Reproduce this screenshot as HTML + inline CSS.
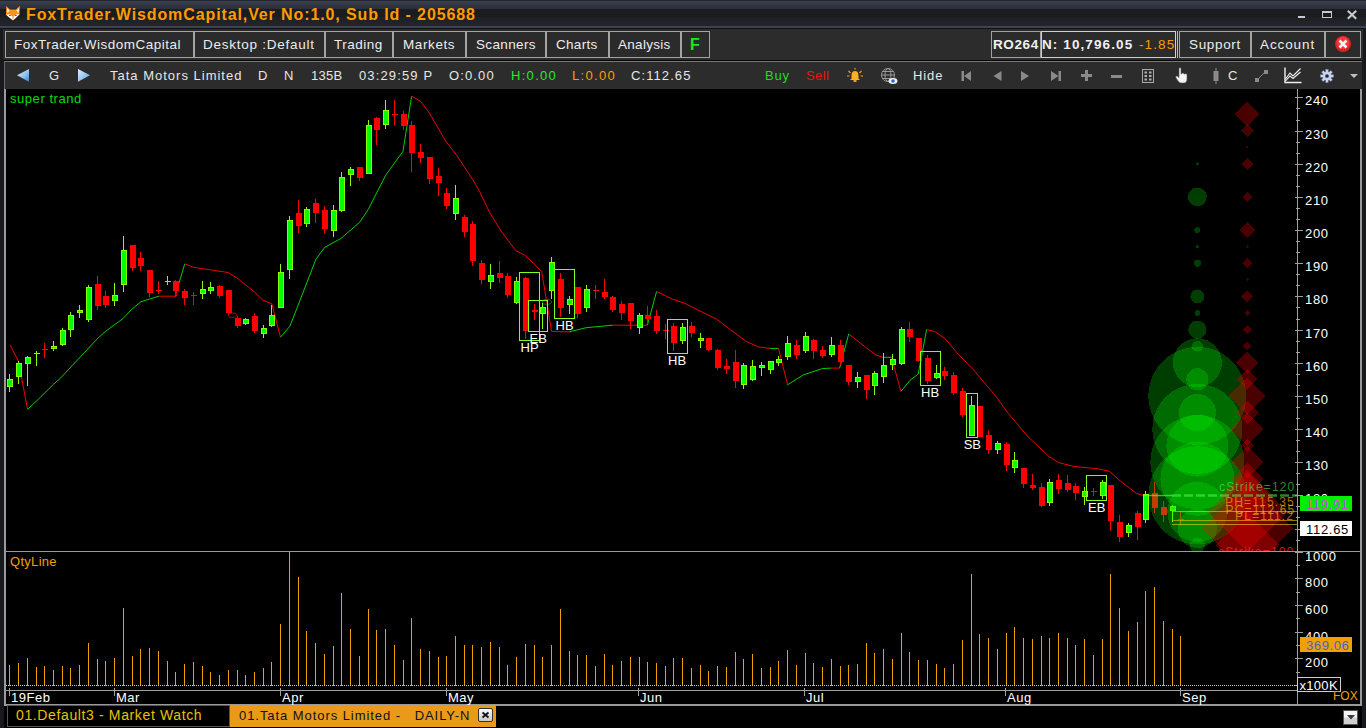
<!DOCTYPE html>
<html><head><meta charset="utf-8">
<style>
*{margin:0;padding:0;box-sizing:border-box}
html,body{width:1366px;height:728px;overflow:hidden;background:#17191c;font-family:"Liberation Sans",sans-serif}
.a{position:absolute;white-space:nowrap}
#title{left:0;top:0;width:1366px;height:28px;background:linear-gradient(#23262c 0px,#23262c 1px,#3a3f4e 1px,#2a2e38 9px,#1b1c1f 9px,#1b1c1f 17px,#1e2024 17px,#22252b 26px,#3d4354 26px,#3d4354 28px)}
#ttxt{left:26px;top:6px;font-weight:bold;font-size:16px;color:#ff9a00;letter-spacing:0.89px;line-height:18px}
#menu{left:3px;top:28px;width:1360px;height:33px;background:#2c2c2c;border-top:1px solid #111;border-bottom:1px solid #050505}
.btn{position:absolute;top:31px;height:27px;border:1px solid #a3a3a3;background:#2b2b2b;color:#ececec;font-size:13.5px;line-height:25px;white-space:nowrap}
.btn span{position:absolute;top:0}
#tool{left:4px;top:61px;width:1358px;height:28px;background:#2c2c2c;border-top:1px solid #777;border-left:1px solid #666}
.tt{position:absolute;top:68px;font-size:13px;color:#e6e6e6;white-space:nowrap;line-height:16px;letter-spacing:1px}
#chart{left:4px;top:89px;width:1358px;height:617px;background:#000;border-left:2px solid #9a9a9a;border-right:2px solid #9a9a9a;border-bottom:2px solid #9a9a9a}
svg{position:absolute;left:0;top:0}
.lbl{font-size:13px;fill:#fff;font-family:"Liberation Sans",sans-serif}
.ax{font-size:13px;fill:#fff;font-family:"Liberation Sans",sans-serif;letter-spacing:0.7px}
.dl{font-size:13px;fill:#fff;font-family:"Liberation Sans",sans-serif;letter-spacing:0.5px}
.tab{position:absolute;top:705px;height:22px;font-size:14px;line-height:18px;white-space:nowrap;letter-spacing:0.63px}
</style></head><body>
<div class="a" id="title"></div>
<svg width="20" height="20" style="left:3px;top:3px" viewBox="0 0 20 20">
<path d="M3.3 3 L7 6.5 L13 6.5 L16.8 2.8 L16.6 11 L10 17.5 L3 11.8 Z" fill="#ff9218"/>
<path d="M3.9 5 L6.6 7.6 L4.3 10 Z M16.1 5 L13.4 7.6 L15.7 10 Z" fill="#fff6e8"/>
<path d="M3 11.8 L6.5 11.2 L9.3 13.2 L9.8 17.2 Z M16.8 11.2 L13.5 11.2 L10.7 13.2 L10.2 17.2 Z" fill="#ffffff"/>
<ellipse cx="6.9" cy="12.4" rx="1" ry="0.6" fill="#556070"/><ellipse cx="12.9" cy="12.4" rx="1" ry="0.6" fill="#556070"/>
</svg>
<div class="a" id="ttxt">FoxTrader.WisdomCapital,Ver No:1.0, Sub Id - 205688</div>
<div class="a" style="left:1298px;top:16px;width:7px;height:2px;background:#c4c8d0"></div>
<div class="a" style="left:1322px;top:11px;width:10px;height:7px;border:1px solid #c4c8d0;border-top:2px solid #c4c8d0"></div>
<svg width="12" height="11" style="left:1346px;top:8.5px" viewBox="0 0 12 11"><path d="M1.8 1.8 L10.2 9.7 M10.2 1.8 L1.8 9.7" stroke="#c4c8d0" stroke-width="2.2"/></svg>

<div class="a" id="menu"></div>
<div class="btn" style="left:5px;width:189px"><span style="left:8px;letter-spacing:0.5px">FoxTrader.WisdomCapital</span></div>
<div class="btn" style="left:194px;width:131px"><span style="left:8px;letter-spacing:0.75px">Desktop :Default</span></div>
<div class="btn" style="left:325px;width:68px"><span style="left:8px;letter-spacing:0.5px">Trading</span></div>
<div class="btn" style="left:393px;width:73px"><span style="left:9px;letter-spacing:0.6px">Markets</span></div>
<div class="btn" style="left:466px;width:80px"><span style="left:9px;letter-spacing:0.35px">Scanners</span></div>
<div class="btn" style="left:546px;width:63px"><span style="left:9px;letter-spacing:0.3px">Charts</span></div>
<div class="btn" style="left:609px;width:72px"><span style="left:8px;letter-spacing:0.3px">Analysis</span></div>
<div class="btn" style="left:681px;width:29px;color:#11f011;font-weight:bold;font-size:16px"><span style="left:8px">F</span></div>
<div class="btn" style="left:991px;width:50px;border-color:#a0a0a0;font-weight:bold;color:#f0f0f0"><span style="left:1px;letter-spacing:0.6px">RO264</span></div>
<div class="btn" style="left:1041px;width:135px;border-color:#d0d0d0;font-weight:bold;color:#f0f0f0"><span style="left:0px;letter-spacing:1.1px">N: 10,796.05</span><span style="left:97px;color:#ff9a00;font-weight:normal;letter-spacing:1.1px">-1.85</span></div>
<div class="a" style="left:1177px;top:31px;width:1px;height:27px;background:#bbb"></div>
<div class="btn" style="left:1179px;width:72px"><span style="left:9px;letter-spacing:0.65px">Support</span></div>
<div class="btn" style="left:1251px;width:74px"><span style="left:8px;letter-spacing:0.9px">Account</span></div>
<div class="btn" style="left:1325px;width:36px"></div>
<svg width="18" height="18" style="left:1334px;top:35px" viewBox="0 0 18 18"><circle cx="9" cy="9" r="8" fill="#d82020"/><circle cx="9" cy="8" r="6.5" fill="#ee3a3a"/><path d="M5.5 5.5 L12.5 12.5 M12.5 5.5 L5.5 12.5" stroke="#f4f4f4" stroke-width="2.6"/></svg>

<div class="a" id="tool"></div>
<svg width="16" height="16" style="left:15px;top:67px" viewBox="0 0 16 16"><defs><linearGradient id="tg" x1="0" y1="0" x2="1" y2="1"><stop offset="0" stop-color="#e0f0ff"/><stop offset="0.6" stop-color="#8cc0ee"/><stop offset="1" stop-color="#3a7ad0"/></linearGradient></defs><path d="M2 8.2 L14 2 L14 14.8 Z" fill="url(#tg)"/></svg>
<div class="tt" style="left:49px">G</div>
<svg width="16" height="16" style="left:76px;top:67px" viewBox="0 0 16 16"><path d="M14 8.2 L2 2 L2 14.8 Z" fill="url(#tg)"/></svg>
<div class="tt" style="left:110px">Tata Motors Limited</div>
<div class="tt" style="left:258px">D</div>
<div class="tt" style="left:284px">N</div>
<div class="tt" style="left:311px;letter-spacing:0.3px">135B</div>
<div class="tt" style="left:359px;letter-spacing:1.14px">03:29:59 P</div>
<div class="tt" style="left:449px;letter-spacing:1.12px">O:0.00</div>
<div class="tt" style="left:511px;color:#22ee22;letter-spacing:1.3px">H:0.00</div>
<div class="tt" style="left:572px;color:#ff9a00;letter-spacing:1.3px">L:0.00</div>
<div class="tt" style="left:631px;letter-spacing:1.08px">C:112.65</div>
<div class="tt" style="left:765px;color:#22dd22;letter-spacing:0.8px">Buy</div>
<div class="tt" style="left:806px;color:#ee1111;letter-spacing:0.4px">Sell</div>
<div class="tt" style="left:913px;letter-spacing:0.9px">Hide</div>
<svg width="18" height="16" style="left:846px;top:68px" viewBox="0 0 18 16"><path d="M9 3 C6 3 5.5 6 5.5 8 L5.5 10.5 L4 12 L14 12 L12.5 10.5 L12.5 8 C12.5 6 12 3 9 3 Z" fill="#ffb020"/><rect x="7.5" y="12" width="3" height="2" fill="#ff9a00"/><path d="M1 8 L3.5 8 M14.5 8 L17 8 M2.5 3 L4.5 5 M15.5 3 L13.5 5 M9 0 L9 1.5" stroke="#ff9a20" stroke-width="1.2"/></svg>
<svg width="18" height="18" style="left:880px;top:67px" viewBox="0 0 18 18"><g fill="none" stroke="#9a9a9a" stroke-width="1"><circle cx="8" cy="8" r="6.5"/><ellipse cx="8" cy="8" rx="3" ry="6.5"/><path d="M1.5 8 L14.5 8 M2.5 4.5 L13.5 4.5 M2.5 11.5 L13.5 11.5"/></g><ellipse cx="13" cy="14" rx="4.5" ry="3" fill="#f0f0f0"/><circle cx="13" cy="14" r="1.8" fill="#2a6ad0"/></svg>
<svg width="12" height="12" style="left:961px;top:70px" viewBox="0 0 12 12"><rect x="0.5" y="1" width="2.5" height="10" fill="#8a8a8a"/><path d="M10 1 L3 6 L10 11 Z" fill="#8a8a8a"/></svg>
<svg width="10" height="12" style="left:993px;top:70px" viewBox="0 0 10 12"><path d="M8.5 1 L0.5 6 L8.5 11 Z" fill="#8a8a8a"/></svg>
<svg width="10" height="12" style="left:1020px;top:70px" viewBox="0 0 10 12"><path d="M1 1 L9 6 L1 11 Z" fill="#8a8a8a"/></svg>
<svg width="12" height="12" style="left:1050px;top:70px" viewBox="0 0 12 12"><rect x="8.5" y="1" width="2.5" height="10" fill="#8a8a8a"/><path d="M1 1 L8.5 6 L1 11 Z" fill="#8a8a8a"/></svg>
<svg width="13" height="13" style="left:1080px;top:69px" viewBox="0 0 13 13"><path d="M6.5 1 L6.5 12 M1 6.5 L12 6.5" stroke="#8a8a8a" stroke-width="3"/></svg>
<div class="a" style="left:1111px;top:75px;width:11px;height:3px;background:#8a8a8a"></div>
<svg width="14" height="16" style="left:1141px;top:68px" viewBox="0 0 14 16"><rect x="1.5" y="1.5" width="11" height="13" fill="none" stroke="#a8a8a8" stroke-width="1"/><g fill="#b0b0b0"><rect x="3.5" y="3.5" width="2.5" height="2"/><rect x="8" y="3.5" width="2.5" height="2"/><rect x="3.5" y="7" width="2.5" height="2"/><rect x="8" y="7" width="2.5" height="2"/><rect x="3.5" y="10.5" width="2.5" height="2"/><rect x="8" y="10.5" width="2.5" height="2"/></g></svg>
<svg width="14" height="17" style="left:1175px;top:67px" viewBox="0 0 14 17"><path d="M4 1.5 C4 0.5 6 0.5 6 1.5 L6 7 L7 6.5 C7.5 5.8 9 6 9 7 L10 7 C10.5 6.5 12 6.8 12 7.8 L12 12 C12 14 11 16 9 16 L6 16 C4.5 16 3.5 14.5 2 12.5 L0.8 10.5 C0.3 9.5 1.5 8.5 2.5 9.3 L4 10.5 Z" fill="#f4f4f4" stroke="#555" stroke-width="0.6"/></svg>
<svg width="8" height="16" style="left:1212px;top:68px" viewBox="0 0 8 16"><rect x="3.5" y="0" width="1" height="16" fill="#8a8a8a"/><rect x="1.5" y="3" width="5" height="10" fill="#8a8a8a"/></svg>
<div class="tt" style="left:1228px;top:68px;letter-spacing:0">C</div>
<svg width="14" height="14" style="left:1254px;top:69px" viewBox="0 0 14 14"><path d="M3 11 L11 3" stroke="#8a8a8a" stroke-width="1"/><rect x="1" y="9" width="4" height="4" fill="#8a8a8a"/><rect x="10" y="1" width="4" height="4" fill="#8a8a8a"/></svg>
<svg width="18" height="17" style="left:1284px;top:67px" viewBox="0 0 18 17"><path d="M1 0.5 L1 15.5 L17.5 15.5" fill="none" stroke="#f0f0f0" stroke-width="1.4"/><path d="M1.5 12 L6 6 L9 9 L16.5 1.5 M1.5 14 L6 9 L9 11.5 L16.5 5" fill="none" stroke="#f0f0f0" stroke-width="1.1"/></svg>
<svg width="14" height="14" style="left:1320px;top:68.5px" viewBox="0 0 15 15"><g fill="#c8d4f0" stroke="#8090b8" stroke-width="0.4"><circle cx="7.5" cy="7.5" r="4.6"/><rect x="6.2" y="0.5" width="2.6" height="14"/><rect x="0.5" y="6.2" width="14" height="2.6"/><rect x="6.2" y="0.5" width="2.6" height="14" transform="rotate(45 7.5 7.5)"/><rect x="6.2" y="0.5" width="2.6" height="14" transform="rotate(-45 7.5 7.5)"/></g><circle cx="7.5" cy="7.5" r="4.2" fill="#c8d4f0"/><circle cx="7.5" cy="7.5" r="2" fill="#2c2c2c"/></svg>
<svg width="8" height="5" style="left:1350px;top:74px" viewBox="0 0 8 5"><path d="M0 0 L8 0 L4 4 Z" fill="#c0c0c0"/></svg>

<div class="a" id="chart"></div>
<svg width="1366" height="728" viewBox="0 0 1366 728">
<defs><clipPath id="cp"><rect x="6" y="89" width="1291" height="462"/></clipPath></defs>
<rect x="4" y="551" width="1358" height="1" fill="#9a9a9a"/>
<g clip-path="url(#cp)">
<polyline points="10.1,345.0 18.4,361.0 27.6,409.3" fill="none" stroke="#f00000" stroke-width="1"/>
<polyline points="27.6,409.3 38.2,399.4 53.6,384.2 60.0,378.6 77.8,359.6 97.1,339.0 105.3,331.5 123.2,318.4 131.4,309.5 141.0,301.7 158.9,296.2" fill="none" stroke="#00d000" stroke-width="1"/>
<polyline points="158.9,296.2 176.4,296.2 176.4,291.7" fill="none" stroke="#f00000" stroke-width="1"/>
<polyline points="176.4,291.7 184.8,263.8" fill="none" stroke="#00d000" stroke-width="1"/>
<polyline points="184.8,263.8 193.5,267.3 209.6,269.7 228.0,272.5 236.8,277.9 254.0,291.5 262.7,300.1 271.9,303.9 280.5,337.2" fill="none" stroke="#f00000" stroke-width="1"/>
<polyline points="280.5,337.2 290.0,326.1 315.9,259.3 324.5,247.5 341.0,238.4 359.7,222.3 368.3,209.4 385.6,175.3 403.0,151.3 411.6,96.2" fill="none" stroke="#00d000" stroke-width="1"/>
<polyline points="411.6,96.2 420.3,101.1 428.9,112.3 446.2,141.9 456.1,154.3 473.0,180.0 479.5,191.4 489.4,212.0 501.0,231.0 515.8,250.7 525.7,255.7 541.7,271.5 551.6,331.4 568.9,331.9" fill="none" stroke="#f00000" stroke-width="1"/>
<polyline points="568.9,331.9 586.2,327.7 612.9,325.2" fill="none" stroke="#00d000" stroke-width="1"/>
<polyline points="612.9,325.2 647.4,325.2" fill="none" stroke="#f00000" stroke-width="1"/>
<polyline points="647.4,325.2 656.6,291.5" fill="none" stroke="#00d000" stroke-width="1"/>
<polyline points="656.6,291.5 672.1,299.0 684.5,303.2 699.3,310.6 716.7,319.2 729.0,328.6 746.3,341.5 758.7,346.9 769.8,348.4" fill="none" stroke="#f00000" stroke-width="1"/>
<polyline points="769.8,348.4 778.5,348.4" fill="none" stroke="#00d000" stroke-width="1"/>
<polyline points="778.5,348.4 787.6,384.8" fill="none" stroke="#f00000" stroke-width="1"/>
<polyline points="787.6,384.8 803.2,374.9 822.3,368.6 831.0,368.1" fill="none" stroke="#00d000" stroke-width="1"/>
<polyline points="831.0,368.1 839.6,368.1" fill="none" stroke="#f00000" stroke-width="1"/>
<polyline points="839.6,368.1 848.7,334.0" fill="none" stroke="#00d000" stroke-width="1"/>
<polyline points="848.7,334.0 875.4,354.8 882.8,357.3" fill="none" stroke="#f00000" stroke-width="1"/>
<polyline points="882.8,357.3 891.5,357.3" fill="none" stroke="#00d000" stroke-width="1"/>
<polyline points="891.5,357.3 900.9,391.4" fill="none" stroke="#f00000" stroke-width="1"/>
<polyline points="900.9,391.4 910.0,380.3 918.2,374.1 926.6,329.6" fill="none" stroke="#00d000" stroke-width="1"/>
<polyline points="926.6,329.6 934.8,331.5 944.7,338.2 958.3,354.3 973.6,370.0 994.6,394.7 1008.2,413.3 1028.0,436.8 1049.0,456.5 1058.9,462.7 1073.7,466.4 1098.5,468.9 1109.6,471.4 1120.7,481.3 1136.4,493.4 1143.4,495.5" fill="none" stroke="#f00000" stroke-width="1"/>
<ellipse cx="232.4" cy="315.2" rx="4.2" ry="2.2" fill="none" stroke="#c00000" stroke-width="1"/>
<ellipse cx="546.9" cy="301.9" rx="4.5" ry="2.5" fill="none" stroke="#007000" stroke-width="1"/>
<rect x="9" y="374" width="1" height="18" fill="#88ff00"/>
<rect x="7.5" y="379.5" width="5" height="7" fill="#00ff00" stroke="#88ff00" stroke-width="1"/>
<rect x="18" y="361" width="1" height="23" fill="#88ff00"/>
<rect x="16.5" y="363.5" width="5" height="13" fill="#00ff00" stroke="#88ff00" stroke-width="1"/>
<rect x="27" y="356" width="1" height="30" fill="#88ff00"/>
<rect x="25.5" y="357.5" width="5" height="6" fill="#00ff00" stroke="#88ff00" stroke-width="1"/>
<rect x="36" y="351" width="1" height="15" fill="#88ff00"/>
<rect x="34" y="353" width="6" height="1" fill="#88ff00"/>
<rect x="44" y="343" width="1" height="15" fill="#ff0000"/>
<rect x="42" y="349" width="6" height="1" fill="#ff0000"/>
<rect x="53" y="341" width="1" height="10" fill="#88ff00"/>
<rect x="51.5" y="346.5" width="5" height="2" fill="#00ff00" stroke="#88ff00" stroke-width="1"/>
<rect x="62" y="328" width="1" height="18" fill="#88ff00"/>
<rect x="60.5" y="330.5" width="5" height="14" fill="#00ff00" stroke="#88ff00" stroke-width="1"/>
<rect x="70" y="312" width="1" height="25" fill="#88ff00"/>
<rect x="68.5" y="315.5" width="5" height="14" fill="#00ff00" stroke="#88ff00" stroke-width="1"/>
<rect x="79" y="305" width="1" height="13" fill="#88ff00"/>
<rect x="77.5" y="310.5" width="5" height="2" fill="#00ff00" stroke="#88ff00" stroke-width="1"/>
<rect x="88" y="285" width="1" height="37" fill="#88ff00"/>
<rect x="86.5" y="287.5" width="5" height="32" fill="#00ff00" stroke="#88ff00" stroke-width="1"/>
<rect x="97" y="276" width="1" height="34" fill="#ff0000"/>
<rect x="95" y="284" width="6" height="22" fill="#ff0000"/>
<rect x="105" y="291" width="1" height="17" fill="#ff0000"/>
<rect x="103" y="296" width="6" height="9" fill="#ff0000"/>
<rect x="114" y="283" width="1" height="23" fill="#88ff00"/>
<rect x="112.5" y="295.5" width="5" height="5" fill="#00ff00" stroke="#88ff00" stroke-width="1"/>
<rect x="123" y="236" width="1" height="56" fill="#88ff00"/>
<rect x="121.5" y="250.5" width="5" height="34" fill="#00ff00" stroke="#88ff00" stroke-width="1"/>
<rect x="132" y="245" width="1" height="26" fill="#ff0000"/>
<rect x="130" y="245" width="6" height="23" fill="#ff0000"/>
<rect x="140" y="252" width="1" height="19" fill="#ff0000"/>
<rect x="138" y="258" width="6" height="8" fill="#ff0000"/>
<rect x="149" y="270" width="1" height="27" fill="#ff0000"/>
<rect x="147" y="270" width="6" height="23" fill="#ff0000"/>
<rect x="158" y="281" width="1" height="13" fill="#ff0000"/>
<rect x="156" y="290" width="6" height="1" fill="#ff0000"/>
<rect x="167" y="276" width="1" height="9" fill="#88ff00"/>
<rect x="165" y="281" width="6" height="1" fill="#88ff00"/>
<rect x="175" y="280" width="1" height="17" fill="#ff0000"/>
<rect x="173" y="281" width="6" height="10" fill="#ff0000"/>
<rect x="184" y="289" width="1" height="16" fill="#ff0000"/>
<rect x="182" y="291" width="6" height="7" fill="#ff0000"/>
<rect x="193" y="292" width="1" height="13" fill="#ff0000"/>
<rect x="191" y="295" width="6" height="1" fill="#ff0000"/>
<rect x="202" y="281" width="1" height="18" fill="#88ff00"/>
<rect x="200.5" y="289.5" width="5" height="4" fill="#00ff00" stroke="#88ff00" stroke-width="1"/>
<rect x="210" y="282" width="1" height="12" fill="#88ff00"/>
<rect x="208.5" y="287.5" width="5" height="3" fill="#00ff00" stroke="#88ff00" stroke-width="1"/>
<rect x="219" y="285" width="1" height="13" fill="#ff0000"/>
<rect x="217" y="286" width="6" height="10" fill="#ff0000"/>
<rect x="228" y="290" width="1" height="24" fill="#ff0000"/>
<rect x="226" y="290" width="6" height="23" fill="#ff0000"/>
<rect x="237" y="316" width="1" height="12" fill="#ff0000"/>
<rect x="235" y="318" width="6" height="8" fill="#ff0000"/>
<rect x="245" y="318" width="1" height="7" fill="#88ff00"/>
<rect x="243.5" y="319.5" width="5" height="4" fill="#00ff00" stroke="#88ff00" stroke-width="1"/>
<rect x="254" y="313" width="1" height="20" fill="#ff0000"/>
<rect x="252" y="316" width="6" height="15" fill="#ff0000"/>
<rect x="263" y="325" width="1" height="13" fill="#88ff00"/>
<rect x="261.5" y="328.5" width="5" height="5" fill="#00ff00" stroke="#88ff00" stroke-width="1"/>
<rect x="271" y="305" width="1" height="22" fill="#88ff00"/>
<rect x="269.5" y="315.5" width="5" height="10" fill="#00ff00" stroke="#88ff00" stroke-width="1"/>
<rect x="280" y="264" width="1" height="44" fill="#88ff00"/>
<rect x="278.5" y="272.5" width="5" height="35" fill="#00ff00" stroke="#88ff00" stroke-width="1"/>
<rect x="289" y="216" width="1" height="63" fill="#88ff00"/>
<rect x="287.5" y="220.5" width="5" height="49" fill="#00ff00" stroke="#88ff00" stroke-width="1"/>
<rect x="298" y="200" width="1" height="33" fill="#ff0000"/>
<rect x="296" y="213" width="6" height="13" fill="#ff0000"/>
<rect x="306" y="207" width="1" height="20" fill="#88ff00"/>
<rect x="304.5" y="209.5" width="5" height="14" fill="#00ff00" stroke="#88ff00" stroke-width="1"/>
<rect x="315" y="199" width="1" height="24" fill="#ff0000"/>
<rect x="313" y="203" width="6" height="10" fill="#ff0000"/>
<rect x="324" y="206" width="1" height="28" fill="#ff0000"/>
<rect x="322" y="210" width="6" height="19" fill="#ff0000"/>
<rect x="333" y="205" width="1" height="32" fill="#88ff00"/>
<rect x="331.5" y="210.5" width="5" height="20" fill="#00ff00" stroke="#88ff00" stroke-width="1"/>
<rect x="341" y="172" width="1" height="40" fill="#88ff00"/>
<rect x="339.5" y="177.5" width="5" height="33" fill="#00ff00" stroke="#88ff00" stroke-width="1"/>
<rect x="350" y="167" width="1" height="19" fill="#88ff00"/>
<rect x="348.5" y="169.5" width="5" height="5" fill="#00ff00" stroke="#88ff00" stroke-width="1"/>
<rect x="359" y="167" width="1" height="14" fill="#ff0000"/>
<rect x="357" y="167" width="6" height="11" fill="#ff0000"/>
<rect x="368" y="120" width="1" height="54" fill="#88ff00"/>
<rect x="366.5" y="125.5" width="5" height="48" fill="#00ff00" stroke="#88ff00" stroke-width="1"/>
<rect x="376" y="117" width="1" height="28" fill="#ff0000"/>
<rect x="374" y="118" width="6" height="12" fill="#ff0000"/>
<rect x="385" y="100" width="1" height="29" fill="#88ff00"/>
<rect x="383.5" y="110.5" width="5" height="14" fill="#00ff00" stroke="#88ff00" stroke-width="1"/>
<rect x="394" y="100" width="1" height="25" fill="#ff0000"/>
<rect x="392" y="114" width="6" height="1" fill="#ff0000"/>
<rect x="403" y="111" width="1" height="19" fill="#ff0000"/>
<rect x="401" y="114" width="6" height="12" fill="#ff0000"/>
<rect x="411" y="121" width="1" height="51" fill="#ff0000"/>
<rect x="409" y="125" width="6" height="28" fill="#ff0000"/>
<rect x="420" y="144" width="1" height="19" fill="#ff0000"/>
<rect x="418" y="152" width="6" height="6" fill="#ff0000"/>
<rect x="429" y="157" width="1" height="27" fill="#ff0000"/>
<rect x="427" y="157" width="6" height="22" fill="#ff0000"/>
<rect x="438" y="168" width="1" height="28" fill="#ff0000"/>
<rect x="436" y="176" width="6" height="7" fill="#ff0000"/>
<rect x="446" y="188" width="1" height="21" fill="#ff0000"/>
<rect x="444" y="193" width="6" height="13" fill="#ff0000"/>
<rect x="455" y="185" width="1" height="35" fill="#88ff00"/>
<rect x="453.5" y="198.5" width="5" height="15" fill="#00ff00" stroke="#88ff00" stroke-width="1"/>
<rect x="464" y="215" width="1" height="22" fill="#ff0000"/>
<rect x="462" y="217" width="6" height="15" fill="#ff0000"/>
<rect x="472" y="221" width="1" height="45" fill="#ff0000"/>
<rect x="470" y="224" width="6" height="37" fill="#ff0000"/>
<rect x="481" y="260" width="1" height="24" fill="#ff0000"/>
<rect x="479" y="263" width="6" height="17" fill="#ff0000"/>
<rect x="490" y="264" width="1" height="25" fill="#88ff00"/>
<rect x="488.5" y="275.5" width="5" height="6" fill="#00ff00" stroke="#88ff00" stroke-width="1"/>
<rect x="499" y="261" width="1" height="22" fill="#ff0000"/>
<rect x="497" y="273" width="6" height="5" fill="#ff0000"/>
<rect x="507" y="273" width="1" height="25" fill="#ff0000"/>
<rect x="505" y="276" width="6" height="19" fill="#ff0000"/>
<rect x="516" y="277" width="1" height="27" fill="#88ff00"/>
<rect x="514.5" y="281.5" width="5" height="21" fill="#00ff00" stroke="#88ff00" stroke-width="1"/>
<rect x="525" y="277" width="1" height="62" fill="#ff0000"/>
<rect x="523" y="278" width="6" height="53" fill="#ff0000"/>
<rect x="534" y="304" width="1" height="16" fill="#ff0000"/>
<rect x="532" y="310" width="6" height="2" fill="#ff0000"/>
<rect x="542" y="303" width="1" height="26" fill="#88ff00"/>
<rect x="540.5" y="307.5" width="5" height="6" fill="#00ff00" stroke="#88ff00" stroke-width="1"/>
<rect x="551" y="257" width="1" height="42" fill="#88ff00"/>
<rect x="549.5" y="262.5" width="5" height="28" fill="#00ff00" stroke="#88ff00" stroke-width="1"/>
<rect x="560" y="273" width="1" height="44" fill="#ff0000"/>
<rect x="558" y="279" width="6" height="29" fill="#ff0000"/>
<rect x="569" y="296" width="1" height="18" fill="#88ff00"/>
<rect x="567.5" y="299.5" width="5" height="5" fill="#00ff00" stroke="#88ff00" stroke-width="1"/>
<rect x="577" y="287" width="1" height="31" fill="#ff0000"/>
<rect x="575" y="287" width="6" height="27" fill="#ff0000"/>
<rect x="586" y="285" width="1" height="27" fill="#88ff00"/>
<rect x="584.5" y="289.5" width="5" height="18" fill="#00ff00" stroke="#88ff00" stroke-width="1"/>
<rect x="595" y="285" width="1" height="14" fill="#ff0000"/>
<rect x="593" y="290" width="6" height="1" fill="#ff0000"/>
<rect x="604" y="279" width="1" height="20" fill="#ff0000"/>
<rect x="602" y="292" width="6" height="5" fill="#ff0000"/>
<rect x="612" y="296" width="1" height="16" fill="#ff0000"/>
<rect x="610" y="297" width="6" height="13" fill="#ff0000"/>
<rect x="621" y="301" width="1" height="19" fill="#ff0000"/>
<rect x="619" y="304" width="6" height="9" fill="#ff0000"/>
<rect x="630" y="303" width="1" height="26" fill="#ff0000"/>
<rect x="628" y="303" width="6" height="18" fill="#ff0000"/>
<rect x="639" y="313" width="1" height="21" fill="#88ff00"/>
<rect x="637.5" y="315.5" width="5" height="12" fill="#00ff00" stroke="#88ff00" stroke-width="1"/>
<rect x="647" y="306" width="1" height="18" fill="#ff0000"/>
<rect x="645" y="315" width="6" height="4" fill="#ff0000"/>
<rect x="656" y="310" width="1" height="24" fill="#ff0000"/>
<rect x="654" y="316" width="6" height="15" fill="#ff0000"/>
<rect x="665" y="324" width="1" height="15" fill="#ff0000"/>
<rect x="663" y="330" width="6" height="1" fill="#ff0000"/>
<rect x="673" y="323" width="1" height="28" fill="#ff0000"/>
<rect x="671" y="326" width="6" height="17" fill="#ff0000"/>
<rect x="682" y="323" width="1" height="21" fill="#88ff00"/>
<rect x="680.5" y="327.5" width="5" height="13" fill="#00ff00" stroke="#88ff00" stroke-width="1"/>
<rect x="691" y="322" width="1" height="15" fill="#ff0000"/>
<rect x="689" y="326" width="6" height="7" fill="#ff0000"/>
<rect x="700" y="333" width="1" height="15" fill="#88ff00"/>
<rect x="698.5" y="338.5" width="5" height="2" fill="#00ff00" stroke="#88ff00" stroke-width="1"/>
<rect x="708" y="338" width="1" height="13" fill="#ff0000"/>
<rect x="706" y="338" width="6" height="12" fill="#ff0000"/>
<rect x="717" y="349" width="1" height="21" fill="#ff0000"/>
<rect x="715" y="350" width="6" height="18" fill="#ff0000"/>
<rect x="726" y="359" width="1" height="15" fill="#ff0000"/>
<rect x="724" y="366" width="6" height="3" fill="#ff0000"/>
<rect x="735" y="350" width="1" height="38" fill="#ff0000"/>
<rect x="733" y="362" width="6" height="19" fill="#ff0000"/>
<rect x="743" y="363" width="1" height="26" fill="#88ff00"/>
<rect x="741.5" y="365.5" width="5" height="19" fill="#00ff00" stroke="#88ff00" stroke-width="1"/>
<rect x="752" y="360" width="1" height="21" fill="#88ff00"/>
<rect x="750.5" y="366.5" width="5" height="13" fill="#00ff00" stroke="#88ff00" stroke-width="1"/>
<rect x="761" y="362" width="1" height="14" fill="#88ff00"/>
<rect x="759.5" y="365.5" width="5" height="2" fill="#00ff00" stroke="#88ff00" stroke-width="1"/>
<rect x="770" y="361" width="1" height="13" fill="#88ff00"/>
<rect x="768.5" y="361.5" width="5" height="8" fill="#00ff00" stroke="#88ff00" stroke-width="1"/>
<rect x="778" y="356" width="1" height="10" fill="#88ff00"/>
<rect x="776.5" y="359.5" width="5" height="3" fill="#00ff00" stroke="#88ff00" stroke-width="1"/>
<rect x="787" y="336" width="1" height="24" fill="#88ff00"/>
<rect x="785.5" y="343.5" width="5" height="13" fill="#00ff00" stroke="#88ff00" stroke-width="1"/>
<rect x="796" y="340" width="1" height="19" fill="#ff0000"/>
<rect x="794" y="345" width="6" height="10" fill="#ff0000"/>
<rect x="805" y="332" width="1" height="21" fill="#88ff00"/>
<rect x="803.5" y="336.5" width="5" height="14" fill="#00ff00" stroke="#88ff00" stroke-width="1"/>
<rect x="813" y="339" width="1" height="20" fill="#ff0000"/>
<rect x="811" y="340" width="6" height="11" fill="#ff0000"/>
<rect x="822" y="346" width="1" height="12" fill="#ff0000"/>
<rect x="820" y="350" width="6" height="6" fill="#ff0000"/>
<rect x="831" y="337" width="1" height="20" fill="#88ff00"/>
<rect x="829.5" y="345.5" width="5" height="9" fill="#00ff00" stroke="#88ff00" stroke-width="1"/>
<rect x="840" y="340" width="1" height="25" fill="#ff0000"/>
<rect x="838" y="345" width="6" height="17" fill="#ff0000"/>
<rect x="848" y="365" width="1" height="20" fill="#ff0000"/>
<rect x="846" y="365" width="6" height="17" fill="#ff0000"/>
<rect x="857" y="372" width="1" height="16" fill="#88ff00"/>
<rect x="855.5" y="377.5" width="5" height="4" fill="#00ff00" stroke="#88ff00" stroke-width="1"/>
<rect x="866" y="375" width="1" height="24" fill="#ff0000"/>
<rect x="864" y="375" width="6" height="15" fill="#ff0000"/>
<rect x="874" y="371" width="1" height="24" fill="#88ff00"/>
<rect x="872.5" y="373.5" width="5" height="12" fill="#00ff00" stroke="#88ff00" stroke-width="1"/>
<rect x="883" y="353" width="1" height="30" fill="#88ff00"/>
<rect x="881.5" y="365.5" width="5" height="11" fill="#00ff00" stroke="#88ff00" stroke-width="1"/>
<rect x="892" y="354" width="1" height="16" fill="#88ff00"/>
<rect x="890.5" y="359.5" width="5" height="5" fill="#00ff00" stroke="#88ff00" stroke-width="1"/>
<rect x="901" y="327" width="1" height="38" fill="#88ff00"/>
<rect x="899.5" y="329.5" width="5" height="34" fill="#00ff00" stroke="#88ff00" stroke-width="1"/>
<rect x="909" y="322" width="1" height="20" fill="#ff0000"/>
<rect x="907" y="329" width="6" height="8" fill="#ff0000"/>
<rect x="918" y="338" width="1" height="24" fill="#ff0000"/>
<rect x="916" y="338" width="6" height="23" fill="#ff0000"/>
<rect x="927" y="355" width="1" height="29" fill="#ff0000"/>
<rect x="925" y="358" width="6" height="23" fill="#ff0000"/>
<rect x="936" y="365" width="1" height="14" fill="#88ff00"/>
<rect x="934.5" y="373.5" width="5" height="4" fill="#00ff00" stroke="#88ff00" stroke-width="1"/>
<rect x="944" y="367" width="1" height="13" fill="#ff0000"/>
<rect x="942" y="371" width="6" height="5" fill="#ff0000"/>
<rect x="953" y="372" width="1" height="23" fill="#ff0000"/>
<rect x="951" y="375" width="6" height="18" fill="#ff0000"/>
<rect x="962" y="388" width="1" height="29" fill="#ff0000"/>
<rect x="960" y="391" width="6" height="24" fill="#ff0000"/>
<rect x="971" y="396" width="1" height="40" fill="#88ff00"/>
<rect x="969.5" y="405.5" width="5" height="30" fill="#00ff00" stroke="#88ff00" stroke-width="1"/>
<rect x="979" y="406" width="1" height="31" fill="#ff0000"/>
<rect x="977" y="406" width="6" height="31" fill="#ff0000"/>
<rect x="988" y="430" width="1" height="24" fill="#ff0000"/>
<rect x="986" y="435" width="6" height="15" fill="#ff0000"/>
<rect x="997" y="441" width="1" height="13" fill="#88ff00"/>
<rect x="995.5" y="443.5" width="5" height="6" fill="#00ff00" stroke="#88ff00" stroke-width="1"/>
<rect x="1006" y="442" width="1" height="29" fill="#ff0000"/>
<rect x="1004" y="444" width="6" height="21" fill="#ff0000"/>
<rect x="1014" y="452" width="1" height="21" fill="#88ff00"/>
<rect x="1012.5" y="460.5" width="5" height="7" fill="#00ff00" stroke="#88ff00" stroke-width="1"/>
<rect x="1023" y="468" width="1" height="20" fill="#ff0000"/>
<rect x="1021" y="468" width="6" height="16" fill="#ff0000"/>
<rect x="1032" y="474" width="1" height="16" fill="#ff0000"/>
<rect x="1030" y="485" width="6" height="3" fill="#ff0000"/>
<rect x="1041" y="483" width="1" height="24" fill="#ff0000"/>
<rect x="1039" y="487" width="6" height="19" fill="#ff0000"/>
<rect x="1049" y="479" width="1" height="27" fill="#88ff00"/>
<rect x="1047.5" y="482.5" width="5" height="20" fill="#00ff00" stroke="#88ff00" stroke-width="1"/>
<rect x="1058" y="474" width="1" height="20" fill="#ff0000"/>
<rect x="1056" y="480" width="6" height="9" fill="#ff0000"/>
<rect x="1067" y="475" width="1" height="17" fill="#ff0000"/>
<rect x="1065" y="483" width="6" height="7" fill="#ff0000"/>
<rect x="1075" y="483" width="1" height="17" fill="#ff0000"/>
<rect x="1073" y="486" width="6" height="7" fill="#ff0000"/>
<rect x="1084" y="487" width="1" height="18" fill="#88ff00"/>
<rect x="1082.5" y="491.5" width="5" height="5" fill="#00ff00" stroke="#88ff00" stroke-width="1"/>
<rect x="1093" y="488" width="1" height="8" fill="#ff0000"/>
<rect x="1091" y="491" width="6" height="1" fill="#ff0000"/>
<rect x="1102" y="480" width="1" height="19" fill="#88ff00"/>
<rect x="1100.5" y="482.5" width="5" height="13" fill="#00ff00" stroke="#88ff00" stroke-width="1"/>
<rect x="1110" y="485" width="1" height="46" fill="#ff0000"/>
<rect x="1108" y="485" width="6" height="36" fill="#ff0000"/>
<rect x="1119" y="515" width="1" height="27" fill="#ff0000"/>
<rect x="1117" y="522" width="6" height="15" fill="#ff0000"/>
<rect x="1128" y="523" width="1" height="14" fill="#88ff00"/>
<rect x="1126.5" y="525.5" width="5" height="7" fill="#00ff00" stroke="#88ff00" stroke-width="1"/>
<rect x="1137" y="511" width="1" height="29" fill="#ff0000"/>
<rect x="1135" y="513" width="6" height="14" fill="#ff0000"/>
<rect x="1145" y="491" width="1" height="32" fill="#88ff00"/>
<rect x="1143.5" y="494.5" width="5" height="25" fill="#00ff00" stroke="#88ff00" stroke-width="1"/>
<rect x="1154" y="482" width="1" height="31" fill="#ff0000"/>
<rect x="1152" y="493" width="6" height="15" fill="#ff0000"/>
<rect x="1163" y="501" width="1" height="21" fill="#ff0000"/>
<rect x="1161" y="507" width="6" height="8" fill="#ff0000"/>
<rect x="1172" y="505" width="1" height="17" fill="#88ff00"/>
<rect x="1170.5" y="506.5" width="5" height="4" fill="#00ff00" stroke="#88ff00" stroke-width="1"/>
<rect x="1180" y="511" width="1" height="14" fill="#ff0000"/>
<rect x="1178" y="519" width="6" height="1" fill="#ff0000"/>
<rect x="519.5" y="272.5" width="20" height="68" fill="none" stroke="#80ff20" stroke-width="1"/>
<rect x="528.5" y="300.5" width="19" height="31" fill="none" stroke="#80ff20" stroke-width="1"/>
<rect x="554.5" y="269.5" width="20" height="49" fill="none" stroke="#80ff20" stroke-width="1"/>
<rect x="667.5" y="319.5" width="20" height="34" fill="none" stroke="#80ff20" stroke-width="1"/>
<rect x="920.5" y="351.5" width="20" height="34" fill="none" stroke="#80ff20" stroke-width="1"/>
<rect x="966.5" y="393.5" width="11" height="44" fill="none" stroke="#80ff20" stroke-width="1"/>
<rect x="1086.5" y="475.5" width="20" height="25" fill="none" stroke="#80ff20" stroke-width="1"/>
<text x="520.5" y="352" class="lbl">HP</text>
<text x="529.5" y="342.5" class="lbl">EB</text>
<text x="555.5" y="330" class="lbl">HB</text>
<text x="668" y="365" class="lbl">HB</text>
<text x="921" y="396.5" class="lbl">HB</text>
<text x="963.7" y="448.5" class="lbl">SB</text>
<text x="1088" y="512.3" class="lbl">EB</text>
<circle cx="1197.4" cy="163.8" r="1.5" fill="#00ff00" fill-opacity="0.24" shape-rendering="crispEdges"/>
<circle cx="1197.4" cy="196.9" r="9.4" fill="#00ff00" fill-opacity="0.24" shape-rendering="crispEdges"/>
<circle cx="1197.4" cy="230.1" r="3" fill="#00ff00" fill-opacity="0.24" shape-rendering="crispEdges"/>
<circle cx="1197.4" cy="246.7" r="1.5" fill="#00ff00" fill-opacity="0.24" shape-rendering="crispEdges"/>
<circle cx="1197.4" cy="263.2" r="3.5" fill="#00ff00" fill-opacity="0.24" shape-rendering="crispEdges"/>
<circle cx="1197.4" cy="296.4" r="7" fill="#00ff00" fill-opacity="0.24" shape-rendering="crispEdges"/>
<circle cx="1197.4" cy="313.0" r="2.8" fill="#00ff00" fill-opacity="0.24" shape-rendering="crispEdges"/>
<circle cx="1197.4" cy="329.6" r="9.1" fill="#00ff00" fill-opacity="0.24" shape-rendering="crispEdges"/>
<circle cx="1197.4" cy="346.1" r="5.5" fill="#00ff00" fill-opacity="0.24" shape-rendering="crispEdges"/>
<circle cx="1197.4" cy="362.7" r="24.5" fill="#00ff00" fill-opacity="0.24" shape-rendering="crispEdges"/>
<circle cx="1197.4" cy="379.3" r="11" fill="#00ff00" fill-opacity="0.24" shape-rendering="crispEdges"/>
<circle cx="1197.4" cy="395.9" r="49" fill="#00ff00" fill-opacity="0.24" shape-rendering="crispEdges"/>
<circle cx="1197.4" cy="412.5" r="18.5" fill="#00ff00" fill-opacity="0.24" shape-rendering="crispEdges"/>
<circle cx="1197.4" cy="429.0" r="45" fill="#00ff00" fill-opacity="0.24" shape-rendering="crispEdges"/>
<circle cx="1197.4" cy="445.6" r="31" fill="#00ff00" fill-opacity="0.24" shape-rendering="crispEdges"/>
<circle cx="1197.4" cy="462.2" r="47" fill="#00ff00" fill-opacity="0.24" shape-rendering="crispEdges"/>
<circle cx="1197.4" cy="478.8" r="37" fill="#00ff00" fill-opacity="0.24" shape-rendering="crispEdges"/>
<circle cx="1197.4" cy="495.4" r="49" fill="#00ff00" fill-opacity="0.24" shape-rendering="crispEdges"/>
<circle cx="1197.4" cy="511.9" r="30" fill="#00ff00" fill-opacity="0.24" shape-rendering="crispEdges"/>
<circle cx="1197.4" cy="528.5" r="19.5" fill="#00ff00" fill-opacity="0.24" shape-rendering="crispEdges"/>
<circle cx="1197.4" cy="545.1" r="7.5" fill="#00ff00" fill-opacity="0.24" shape-rendering="crispEdges"/>
<path d="M1247.3 101.6 L1259.7 114.0 L1247.3 126.4 L1234.9 114.0 Z" fill="#ff0000" fill-opacity="0.29" shape-rendering="crispEdges"/>
<path d="M1247.3 124.0 L1253.9 130.6 L1247.3 137.2 L1240.7 130.6 Z" fill="#ff0000" fill-opacity="0.29" shape-rendering="crispEdges"/>
<path d="M1247.3 145.7 L1248.8 147.2 L1247.3 148.7 L1245.8 147.2 Z" fill="#ff0000" fill-opacity="0.29" shape-rendering="crispEdges"/>
<path d="M1247.3 157.8 L1253.3 163.8 L1247.3 169.8 L1241.3 163.8 Z" fill="#ff0000" fill-opacity="0.29" shape-rendering="crispEdges"/>
<path d="M1247.3 191.9 L1252.3 196.9 L1247.3 201.9 L1242.3 196.9 Z" fill="#ff0000" fill-opacity="0.29" shape-rendering="crispEdges"/>
<path d="M1247.3 222.1 L1255.3 230.1 L1247.3 238.1 L1239.3 230.1 Z" fill="#ff0000" fill-opacity="0.29" shape-rendering="crispEdges"/>
<path d="M1247.3 245.2 L1248.8 246.7 L1247.3 248.2 L1245.8 246.7 Z" fill="#ff0000" fill-opacity="0.29" shape-rendering="crispEdges"/>
<path d="M1247.3 258.2 L1252.3 263.2 L1247.3 268.2 L1242.3 263.2 Z" fill="#ff0000" fill-opacity="0.29" shape-rendering="crispEdges"/>
<path d="M1247.3 278.3 L1248.8 279.8 L1247.3 281.3 L1245.8 279.8 Z" fill="#ff0000" fill-opacity="0.29" shape-rendering="crispEdges"/>
<path d="M1247.3 290.4 L1253.3 296.4 L1247.3 302.4 L1241.3 296.4 Z" fill="#ff0000" fill-opacity="0.29" shape-rendering="crispEdges"/>
<path d="M1247.3 310.0 L1250.3 313.0 L1247.3 316.0 L1244.3 313.0 Z" fill="#ff0000" fill-opacity="0.29" shape-rendering="crispEdges"/>
<path d="M1247.3 325.1 L1251.8 329.6 L1247.3 334.1 L1242.8 329.6 Z" fill="#ff0000" fill-opacity="0.29" shape-rendering="crispEdges"/>
<path d="M1247.3 341.6 L1251.8 346.1 L1247.3 350.6 L1242.8 346.1 Z" fill="#ff0000" fill-opacity="0.29" shape-rendering="crispEdges"/>
<path d="M1247.3 351.5 L1258.5 362.7 L1247.3 373.9 L1236.1 362.7 Z" fill="#ff0000" fill-opacity="0.29" shape-rendering="crispEdges"/>
<path d="M1247.3 369.1 L1257.5 379.3 L1247.3 389.5 L1237.1 379.3 Z" fill="#ff0000" fill-opacity="0.29" shape-rendering="crispEdges"/>
<path d="M1247.3 377.4 L1265.8 395.9 L1247.3 414.4 L1228.8 395.9 Z" fill="#ff0000" fill-opacity="0.29" shape-rendering="crispEdges"/>
<path d="M1247.3 401.0 L1258.8 412.5 L1247.3 424.0 L1235.8 412.5 Z" fill="#ff0000" fill-opacity="0.29" shape-rendering="crispEdges"/>
<path d="M1247.3 412.5 L1263.8 429.0 L1247.3 445.5 L1230.8 429.0 Z" fill="#ff0000" fill-opacity="0.29" shape-rendering="crispEdges"/>
<path d="M1247.3 438.9 L1254.0 445.6 L1247.3 452.3 L1240.6 445.6 Z" fill="#ff0000" fill-opacity="0.29" shape-rendering="crispEdges"/>
<path d="M1247.3 446.2 L1263.3 462.2 L1247.3 478.2 L1231.3 462.2 Z" fill="#ff0000" fill-opacity="0.29" shape-rendering="crispEdges"/>
<path d="M1247.3 462.8 L1263.3 478.8 L1247.3 494.8 L1231.3 478.8 Z" fill="#ff0000" fill-opacity="0.29" shape-rendering="crispEdges"/>
<path d="M1247.3 469.4 L1273.3 495.4 L1247.3 521.4 L1221.3 495.4 Z" fill="#ff0000" fill-opacity="0.29" shape-rendering="crispEdges"/>
<path d="M1247.3 471.9 L1287.3 511.9 L1247.3 551.9 L1207.3 511.9 Z" fill="#ff0000" fill-opacity="0.29" shape-rendering="crispEdges"/>
<path d="M1247.3 482.8 L1293.0 528.5 L1247.3 574.2 L1201.6 528.5 Z" fill="#ff0000" fill-opacity="0.29" shape-rendering="crispEdges"/>
<path d="M1247.3 513.1 L1279.3 545.1 L1247.3 577.1 L1215.3 545.1 Z" fill="#ff0000" fill-opacity="0.29" shape-rendering="crispEdges"/>
<line x1="1143" y1="495.5" x2="1172" y2="495.5" stroke="#66ff66" stroke-opacity="0.6" stroke-width="1.5"/>
<line x1="1172" y1="495.5" x2="1297" y2="495.5" stroke="#5aff5a" stroke-opacity="0.5" stroke-width="2.5" stroke-dasharray="9,3"/>
<line x1="1172" y1="511.5" x2="1297" y2="511.5" stroke="#ffe020" stroke-opacity="0.55" stroke-width="1"/>
<line x1="1172" y1="520.5" x2="1297" y2="520.5" stroke="#ffc000" stroke-opacity="0.6" stroke-width="1"/>
<line x1="1172" y1="524.5" x2="1297" y2="524.5" stroke="#ffe020" stroke-opacity="0.55" stroke-width="1"/>
<text x="1219" y="491" style="font-family:'Liberation Sans',sans-serif;font-size:12px;letter-spacing:1.15px;fill:#5aff5a;fill-opacity:0.55">cStrike=120</text>
<text x="1225" y="506" style="font-family:'Liberation Sans',sans-serif;font-size:12px;letter-spacing:1.15px;fill:#ff9a20;fill-opacity:0.7">PH=115.35</text>
<text x="1225.5" y="514" style="font-family:'Liberation Sans',sans-serif;font-size:12px;letter-spacing:1.15px;fill:#ffd000;fill-opacity:0.6">PC=112.65</text>
<text x="1235" y="519.5" style="font-family:'Liberation Sans',sans-serif;font-size:12px;letter-spacing:1.15px;fill:#ffa020;fill-opacity:0.7">PL=111.2</text>
<text x="1218" y="556" style="font-family:'Liberation Sans',sans-serif;font-size:12px;letter-spacing:1.15px;fill:#ff2020;fill-opacity:0.8">cStrike=100</text>
</g>
<g fill="#f0a000">
<rect x="9" y="665" width="1" height="21"/>
<rect x="18" y="663" width="1" height="23"/>
<rect x="27" y="658" width="1" height="28"/>
<rect x="36" y="667" width="1" height="19"/>
<rect x="44" y="666" width="1" height="20"/>
<rect x="53" y="670" width="1" height="16"/>
<rect x="62" y="666" width="1" height="20"/>
<rect x="70" y="668" width="1" height="18"/>
<rect x="79" y="665" width="1" height="21"/>
<rect x="88" y="643" width="1" height="43"/>
<rect x="97" y="659" width="1" height="27"/>
<rect x="105" y="661" width="1" height="25"/>
<rect x="114" y="658" width="1" height="28"/>
<rect x="123" y="608" width="1" height="78"/>
<rect x="132" y="656" width="1" height="30"/>
<rect x="140" y="649" width="1" height="37"/>
<rect x="149" y="648" width="1" height="38"/>
<rect x="158" y="651" width="1" height="35"/>
<rect x="167" y="661" width="1" height="25"/>
<rect x="175" y="672" width="1" height="14"/>
<rect x="184" y="664" width="1" height="22"/>
<rect x="193" y="662" width="1" height="24"/>
<rect x="202" y="666" width="1" height="20"/>
<rect x="210" y="672" width="1" height="14"/>
<rect x="219" y="675" width="1" height="11"/>
<rect x="228" y="670" width="1" height="16"/>
<rect x="237" y="670" width="1" height="16"/>
<rect x="245" y="675" width="1" height="11"/>
<rect x="254" y="672" width="1" height="14"/>
<rect x="263" y="668" width="1" height="18"/>
<rect x="271" y="662" width="1" height="24"/>
<rect x="280" y="624" width="1" height="62"/>
<rect x="289" y="552" width="1" height="134"/>
<rect x="298" y="577" width="1" height="109"/>
<rect x="306" y="631" width="1" height="55"/>
<rect x="315" y="643" width="1" height="43"/>
<rect x="324" y="654" width="1" height="32"/>
<rect x="333" y="646" width="1" height="40"/>
<rect x="341" y="593" width="1" height="93"/>
<rect x="350" y="629" width="1" height="57"/>
<rect x="359" y="656" width="1" height="30"/>
<rect x="368" y="609" width="1" height="77"/>
<rect x="376" y="630" width="1" height="56"/>
<rect x="385" y="629" width="1" height="57"/>
<rect x="394" y="645" width="1" height="41"/>
<rect x="403" y="660" width="1" height="26"/>
<rect x="411" y="618" width="1" height="68"/>
<rect x="420" y="649" width="1" height="37"/>
<rect x="429" y="651" width="1" height="35"/>
<rect x="438" y="657" width="1" height="29"/>
<rect x="446" y="656" width="1" height="30"/>
<rect x="455" y="636" width="1" height="50"/>
<rect x="464" y="645" width="1" height="41"/>
<rect x="472" y="645" width="1" height="41"/>
<rect x="481" y="647" width="1" height="39"/>
<rect x="490" y="642" width="1" height="44"/>
<rect x="499" y="647" width="1" height="39"/>
<rect x="507" y="665" width="1" height="21"/>
<rect x="516" y="657" width="1" height="29"/>
<rect x="525" y="644" width="1" height="42"/>
<rect x="534" y="645" width="1" height="41"/>
<rect x="542" y="657" width="1" height="29"/>
<rect x="551" y="645" width="1" height="41"/>
<rect x="560" y="609" width="1" height="77"/>
<rect x="569" y="651" width="1" height="35"/>
<rect x="577" y="655" width="1" height="31"/>
<rect x="586" y="655" width="1" height="31"/>
<rect x="595" y="666" width="1" height="20"/>
<rect x="604" y="654" width="1" height="32"/>
<rect x="612" y="665" width="1" height="21"/>
<rect x="621" y="661" width="1" height="25"/>
<rect x="630" y="657" width="1" height="29"/>
<rect x="639" y="657" width="1" height="29"/>
<rect x="647" y="662" width="1" height="24"/>
<rect x="656" y="663" width="1" height="23"/>
<rect x="665" y="666" width="1" height="20"/>
<rect x="673" y="658" width="1" height="28"/>
<rect x="682" y="658" width="1" height="28"/>
<rect x="691" y="668" width="1" height="18"/>
<rect x="700" y="665" width="1" height="21"/>
<rect x="708" y="671" width="1" height="15"/>
<rect x="717" y="666" width="1" height="20"/>
<rect x="726" y="667" width="1" height="19"/>
<rect x="735" y="652" width="1" height="34"/>
<rect x="743" y="659" width="1" height="27"/>
<rect x="752" y="654" width="1" height="32"/>
<rect x="761" y="668" width="1" height="18"/>
<rect x="770" y="667" width="1" height="19"/>
<rect x="778" y="661" width="1" height="25"/>
<rect x="787" y="650" width="1" height="36"/>
<rect x="796" y="665" width="1" height="21"/>
<rect x="805" y="653" width="1" height="33"/>
<rect x="813" y="663" width="1" height="23"/>
<rect x="822" y="667" width="1" height="19"/>
<rect x="831" y="659" width="1" height="27"/>
<rect x="840" y="666" width="1" height="20"/>
<rect x="848" y="665" width="1" height="21"/>
<rect x="857" y="664" width="1" height="22"/>
<rect x="866" y="643" width="1" height="43"/>
<rect x="874" y="653" width="1" height="33"/>
<rect x="883" y="649" width="1" height="37"/>
<rect x="892" y="659" width="1" height="27"/>
<rect x="901" y="633" width="1" height="53"/>
<rect x="909" y="652" width="1" height="34"/>
<rect x="918" y="660" width="1" height="26"/>
<rect x="927" y="660" width="1" height="26"/>
<rect x="936" y="664" width="1" height="22"/>
<rect x="944" y="668" width="1" height="18"/>
<rect x="953" y="664" width="1" height="22"/>
<rect x="962" y="640" width="1" height="46"/>
<rect x="971" y="574" width="1" height="112"/>
<rect x="979" y="634" width="1" height="52"/>
<rect x="988" y="638" width="1" height="48"/>
<rect x="997" y="649" width="1" height="37"/>
<rect x="1006" y="633" width="1" height="53"/>
<rect x="1014" y="627" width="1" height="59"/>
<rect x="1023" y="638" width="1" height="48"/>
<rect x="1032" y="639" width="1" height="47"/>
<rect x="1041" y="636" width="1" height="50"/>
<rect x="1049" y="638" width="1" height="48"/>
<rect x="1058" y="633" width="1" height="53"/>
<rect x="1067" y="638" width="1" height="48"/>
<rect x="1075" y="645" width="1" height="41"/>
<rect x="1084" y="639" width="1" height="47"/>
<rect x="1093" y="655" width="1" height="31"/>
<rect x="1102" y="639" width="1" height="47"/>
<rect x="1110" y="574" width="1" height="112"/>
<rect x="1119" y="608" width="1" height="78"/>
<rect x="1128" y="631" width="1" height="55"/>
<rect x="1137" y="622" width="1" height="64"/>
<rect x="1145" y="591" width="1" height="95"/>
<rect x="1154" y="587" width="1" height="99"/>
<rect x="1163" y="621" width="1" height="65"/>
<rect x="1172" y="629" width="1" height="57"/>
<rect x="1180" y="636" width="1" height="50"/>
</g>
<rect x="1297" y="89" width="1" height="615" fill="#a0a0a0"/>
<rect x="1295" y="97" width="8" height="1" fill="#a0a0a0"/>
<rect x="1296" y="108" width="4" height="1" fill="#a0a0a0"/>
<rect x="1296" y="120" width="4" height="1" fill="#a0a0a0"/>
<rect x="1295" y="131" width="8" height="1" fill="#a0a0a0"/>
<rect x="1296" y="142" width="4" height="1" fill="#a0a0a0"/>
<rect x="1296" y="153" width="4" height="1" fill="#a0a0a0"/>
<rect x="1295" y="164" width="8" height="1" fill="#a0a0a0"/>
<rect x="1296" y="175" width="4" height="1" fill="#a0a0a0"/>
<rect x="1296" y="186" width="4" height="1" fill="#a0a0a0"/>
<rect x="1295" y="197" width="8" height="1" fill="#a0a0a0"/>
<rect x="1296" y="208" width="4" height="1" fill="#a0a0a0"/>
<rect x="1296" y="219" width="4" height="1" fill="#a0a0a0"/>
<rect x="1295" y="230" width="8" height="1" fill="#a0a0a0"/>
<rect x="1296" y="241" width="4" height="1" fill="#a0a0a0"/>
<rect x="1296" y="252" width="4" height="1" fill="#a0a0a0"/>
<rect x="1295" y="263" width="8" height="1" fill="#a0a0a0"/>
<rect x="1296" y="274" width="4" height="1" fill="#a0a0a0"/>
<rect x="1296" y="285" width="4" height="1" fill="#a0a0a0"/>
<rect x="1295" y="296" width="8" height="1" fill="#a0a0a0"/>
<rect x="1296" y="307" width="4" height="1" fill="#a0a0a0"/>
<rect x="1296" y="319" width="4" height="1" fill="#a0a0a0"/>
<rect x="1295" y="330" width="8" height="1" fill="#a0a0a0"/>
<rect x="1296" y="341" width="4" height="1" fill="#a0a0a0"/>
<rect x="1296" y="352" width="4" height="1" fill="#a0a0a0"/>
<rect x="1295" y="363" width="8" height="1" fill="#a0a0a0"/>
<rect x="1296" y="374" width="4" height="1" fill="#a0a0a0"/>
<rect x="1296" y="385" width="4" height="1" fill="#a0a0a0"/>
<rect x="1295" y="396" width="8" height="1" fill="#a0a0a0"/>
<rect x="1296" y="407" width="4" height="1" fill="#a0a0a0"/>
<rect x="1296" y="418" width="4" height="1" fill="#a0a0a0"/>
<rect x="1295" y="429" width="8" height="1" fill="#a0a0a0"/>
<rect x="1296" y="440" width="4" height="1" fill="#a0a0a0"/>
<rect x="1296" y="451" width="4" height="1" fill="#a0a0a0"/>
<rect x="1295" y="462" width="8" height="1" fill="#a0a0a0"/>
<rect x="1296" y="473" width="4" height="1" fill="#a0a0a0"/>
<rect x="1296" y="484" width="4" height="1" fill="#a0a0a0"/>
<rect x="1295" y="495" width="8" height="1" fill="#a0a0a0"/>
<rect x="1296" y="506" width="4" height="1" fill="#a0a0a0"/>
<rect x="1296" y="517" width="4" height="1" fill="#a0a0a0"/>
<rect x="1295" y="529" width="8" height="1" fill="#a0a0a0"/>
<rect x="1296" y="540" width="4" height="1" fill="#a0a0a0"/>
<rect x="1296" y="551" width="4" height="1" fill="#a0a0a0"/>
<text x="1305" y="105.4" class="ax">240</text>
<text x="1305" y="138.6" class="ax">230</text>
<text x="1305" y="171.8" class="ax">220</text>
<text x="1305" y="204.9" class="ax">210</text>
<text x="1305" y="238.1" class="ax">200</text>
<text x="1305" y="271.2" class="ax">190</text>
<text x="1305" y="304.4" class="ax">180</text>
<text x="1305" y="337.6" class="ax">170</text>
<text x="1305" y="370.7" class="ax">160</text>
<text x="1305" y="403.9" class="ax">150</text>
<text x="1305" y="437.0" class="ax">140</text>
<text x="1305" y="470.2" class="ax">130</text>
<text x="1305" y="503.4" class="ax">120</text>
<rect x="1295" y="552" width="8" height="1" fill="#a0a0a0"/>
<rect x="1296" y="565" width="4" height="1" fill="#a0a0a0"/>
<rect x="1295" y="578" width="8" height="1" fill="#a0a0a0"/>
<rect x="1296" y="592" width="4" height="1" fill="#a0a0a0"/>
<rect x="1295" y="605" width="8" height="1" fill="#a0a0a0"/>
<rect x="1296" y="618" width="4" height="1" fill="#a0a0a0"/>
<rect x="1295" y="632" width="8" height="1" fill="#a0a0a0"/>
<rect x="1296" y="645" width="4" height="1" fill="#a0a0a0"/>
<rect x="1295" y="658" width="8" height="1" fill="#a0a0a0"/>
<rect x="1296" y="672" width="4" height="1" fill="#a0a0a0"/>
<rect x="1295" y="685" width="8" height="1" fill="#a0a0a0"/>
<text x="1305" y="560.6" class="ax">1000</text>
<text x="1305" y="587.3" class="ax">800</text>
<text x="1305" y="613.9" class="ax">600</text>
<text x="1305" y="640.6" class="ax">400</text>
<text x="1305" y="667.2" class="ax">200</text>
<rect x="1300" y="496" width="52" height="15" fill="#00ee00"/>
<text x="1306" y="508.5" style="font-size:13px;fill:#e040e0;font-family:'Liberation Sans',sans-serif;letter-spacing:0.7px">119.91</text>
<rect x="1300" y="521" width="52" height="15" fill="#ffffff"/>
<text x="1306" y="533.5" style="font-size:13px;fill:#000;font-family:'Liberation Sans',sans-serif;letter-spacing:0.7px">112.65</text>
<rect x="1300" y="637" width="52" height="15" fill="#f0a000"/>
<text x="1306" y="649.5" style="font-size:13px;fill:#3a6ad8;font-family:'Liberation Sans',sans-serif;letter-spacing:0.6px">369.06</text>
<rect x="1297.5" y="677.5" width="43" height="14" fill="#000" stroke="#d0d0d0" stroke-width="1"/>
<text x="1299.5" y="689.5" style="font-size:13px;fill:#fff;font-family:'Liberation Sans',sans-serif;letter-spacing:0.3px">x100K</text>
<text x="1333" y="700" style="font-size:12px;fill:#f0a000;font-family:'Liberation Sans',sans-serif">FOX</text>
<line x1="6" y1="685.5" x2="1297" y2="685.5" stroke="#c8c8c8" stroke-width="1" stroke-dasharray="1,1"/>
<rect x="6" y="690" width="1291" height="1" fill="#a0a0a0"/>
<rect x="9" y="688" width="1" height="8" fill="#a0a0a0"/>
<text x="11" y="702" class="dl">19Feb</text>
<rect x="114" y="688" width="1" height="8" fill="#a0a0a0"/>
<text x="116" y="702" class="dl">Mar</text>
<rect x="280" y="688" width="1" height="8" fill="#a0a0a0"/>
<text x="282" y="702" class="dl">Apr</text>
<rect x="446" y="688" width="1" height="8" fill="#a0a0a0"/>
<text x="448" y="702" class="dl">May</text>
<rect x="638" y="688" width="1" height="8" fill="#a0a0a0"/>
<text x="640" y="702" class="dl">Jun</text>
<rect x="804" y="688" width="1" height="8" fill="#a0a0a0"/>
<text x="806" y="702" class="dl">Jul</text>
<rect x="1005" y="688" width="1" height="8" fill="#a0a0a0"/>
<text x="1007" y="702" class="dl">Aug</text>
<rect x="1180" y="688" width="1" height="8" fill="#a0a0a0"/>
<text x="1182" y="702" class="dl">Sep</text>
<text x="10" y="103" style="font-size:13px;fill:#00dd00;font-family:'Liberation Sans',sans-serif;letter-spacing:0.55px">super trand</text>
<text x="10" y="566" style="font-size:13px;fill:#f0a000;font-family:'Liberation Sans',sans-serif;letter-spacing:0.3px">QtyLine</text>
</svg>
<div class="a" style="left:4px;top:706px;width:1358px;height:22px;background:#000"></div>
<div class="tab" style="left:7px;width:223px;background:#000;border:1px solid #555;color:#e8c000;padding-left:8px">01.Default3 - Market Watch</div>
<div class="tab" style="left:230px;width:266px;background:#e89a18;color:#111;padding-left:9px;padding-top:2px;font-size:13px;letter-spacing:0.94px">01.Tata Motors Limited - &nbsp; DAILY-N</div>
<div class="a" style="left:478px;top:708px;width:15px;height:14px;background:linear-gradient(#fafafa,#c8c8c8);border:1px solid #333;border-radius:2px"></div>
<svg width="15" height="14" style="left:478px;top:708px" viewBox="0 0 15 14"><path d="M4.5 4.5 L10.5 9.5 M10.5 4.5 L4.5 9.5" stroke="#111" stroke-width="1.8"/></svg>
<div class="a" style="left:1343px;top:710px;width:15px;height:15px;background:linear-gradient(#f4f4f4 45%,#d0d0d0 55%);border:1px solid #555"></div>
<svg width="8" height="5" style="left:1347px;top:715px" viewBox="0 0 8 5"><path d="M0 0 L8 0 L4 4.5 Z" fill="#333844"/></svg>
</body></html>
